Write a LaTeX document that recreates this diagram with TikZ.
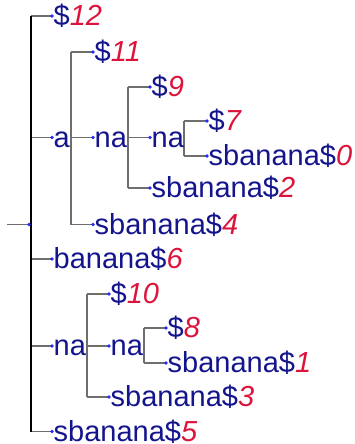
\documentclass[tikz,border=0pt]{standalone}
\usepackage{fontspec}
\setmainfont{Liberation Sans}
\usetikzlibrary{calc}
\definecolor{navyc}{RGB}{20,20,140}
\definecolor{numred}{RGB}{220,20,60}
\definecolor{dotblue}{RGB}{40,40,255}
\definecolor{linegray}{RGB}{110,110,110}
\newcommand\rn[1]{\textcolor{numred}{\itshape #1}}
\begin{document}
\begin{tikzpicture}[x=1pt,y=-1pt,
 lab/.style={anchor=base west, inner sep=0pt, text=navyc, font=\fontsize{29}{31}\selectfont},
 dotc/.style={circle, fill=dotblue, inner sep=0pt, minimum size=3.6pt},
 ln/.style={draw=linegray, line width=1.5pt},
 rootln/.style={draw=black, line width=1.2pt}]
\useasboundingbox (0,0) rectangle (354,444);
% positions of the dots
\coordinate (root) at (29,224.5);
\coordinate (rootin) at (7,224.5);
\coordinate (vR) at (31,0);
\coordinate (l12) at (52,16);
\coordinate (A) at (52,137.5);
\coordinate (l6) at (52,259);
\coordinate (B) at (52,346);
\coordinate (l5) at (52,431.5);
\coordinate (vA) at (71,0);
\coordinate (l11) at (93,52);
\coordinate (A1) at (93,137.5);
\coordinate (l4) at (93,224.5);
\coordinate (vA1) at (128,0);
\coordinate (l9) at (150,87);
\coordinate (A2) at (150,137.5);
\coordinate (l2) at (150,188);
\coordinate (vA2) at (184,0);
\coordinate (l7) at (207,121);
\coordinate (l0) at (207,156);
\coordinate (vB) at (87,0);
\coordinate (l10) at (109,294);
\coordinate (B1) at (109,346);
\coordinate (l3) at (109,397);
\coordinate (vB1) at (144,0);
\coordinate (l8) at (166,328);
\coordinate (l1) at (166,363);
% connectors
\draw[ln] (rootin) -- (root);
\foreach \c in {l12,A,l6,B,l5} \draw[ln] (vR |- \c) -- (\c);
\draw[rootln] (vR |- l12) -- (vR |- l5);
\draw[ln] (vA |- l11) -- (vA |- l4);
\foreach \c in {l11,A1,l4} \draw[ln] (vA |- \c) -- (\c);
\draw[ln] (vA1 |- l9) -- (vA1 |- l2);
\foreach \c in {l9,A2,l2} \draw[ln] (vA1 |- \c) -- (\c);
\draw[ln] (vA2 |- l7) -- (vA2 |- l0);
\foreach \c in {l7,l0} \draw[ln] (vA2 |- \c) -- (\c);
\draw[ln] (vB |- l10) -- (vB |- l3);
\foreach \c in {l10,B1,l3} \draw[ln] (vB |- \c) -- (\c);
\draw[ln] (vB1 |- l8) -- (vB1 |- l1);
\foreach \c in {l8,l1} \draw[ln] (vB1 |- \c) -- (\c);
% dots
\foreach \c in {root,l12,A,l6,B,l5,l11,A1,l4,l9,A2,l2,l7,l0,l10,B1,l3,l8,l1}
  \node[dotc] (d\c) at (\c) {};
% labels
\node[lab] (t12) at ($(l12)+(1.5,9.5)$) {\$\rn{12}};
\node[lab] (tA) at ($(A)+(1.5,9.5)$) {a};
\node[lab] (t6) at ($(l6)+(1.5,9.5)$) {banana\$\rn{6}};
\node[lab] (tB) at ($(B)+(1.5,9.5)$) {na};
\node[lab] (t5) at ($(l5)+(1.5,9.5)$) {sbanana\$\rn{5}};
\node[lab] (t11) at ($(l11)+(1.5,9.5)$) {\$\rn{11}};
\node[lab] (tA1) at ($(A1)+(1.5,9.5)$) {na};
\node[lab] (t4) at ($(l4)+(1.5,9.5)$) {sbanana\$\rn{4}};
\node[lab] (t9) at ($(l9)+(1.5,9.5)$) {\$\rn{9}};
\node[lab] (tA2) at ($(A2)+(1.5,9.5)$) {na};
\node[lab] (t2) at ($(l2)+(1.5,9.5)$) {sbanana\$\rn{2}};
\node[lab] (t7) at ($(l7)+(1.5,9.5)$) {\$\rn{7}};
\node[lab] (t0) at ($(l0)+(1.5,9.5)$) {sbanana\$\rn{0}};
\node[lab] (t10) at ($(l10)+(1.5,9.5)$) {\$\rn{10}};
\node[lab] (tB1) at ($(B1)+(1.5,9.5)$) {na};
\node[lab] (t3) at ($(l3)+(1.5,9.5)$) {sbanana\$\rn{3}};
\node[lab] (t8) at ($(l8)+(1.5,9.5)$) {\$\rn{8}};
\node[lab] (t1) at ($(l1)+(1.5,9.5)$) {sbanana\$\rn{1}};
\end{tikzpicture}
\end{document}
